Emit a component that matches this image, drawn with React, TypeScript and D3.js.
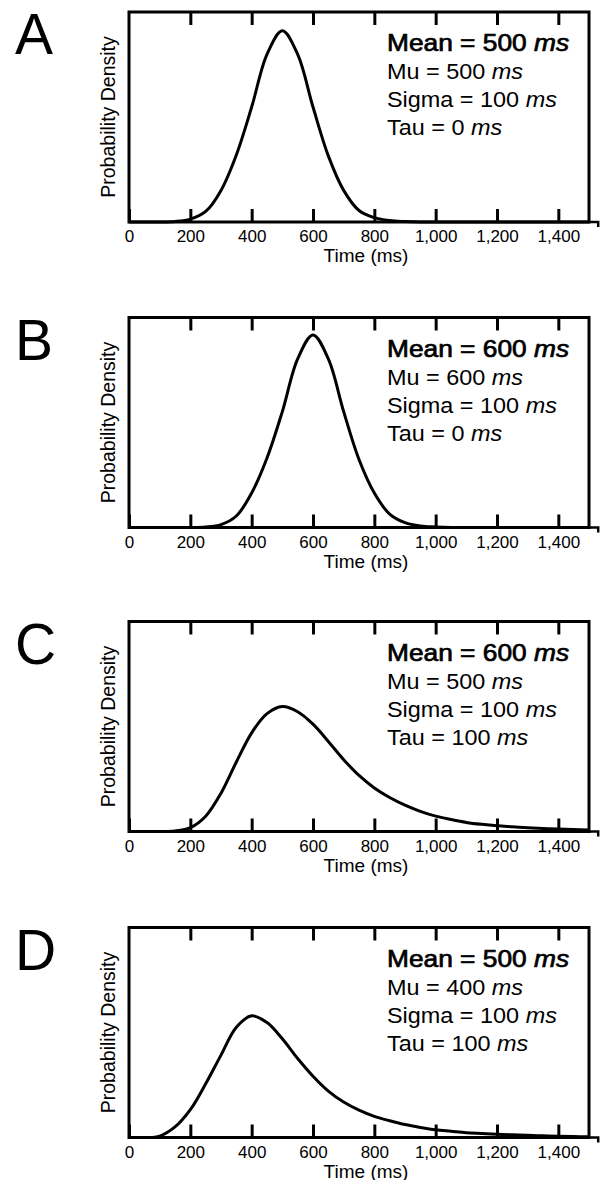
import React, { useEffect, useRef } from 'react';
import * as d3 from 'd3';

// panel letters and the ex-Gaussian parameters printed in each panel
const panels = ['A', 'B', 'C', 'D'];
const means = [500, 600, 600, 500];
const mus = [500, 600, 500, 400];
const sigmas = [100, 100, 100, 100];
const taus = [0, 0, 100, 100];

const timeTicks = [0, 200, 400, 600, 800, 1000, 1200, 1400];

// sample times (ms) for the density curves
const times = [
  0, 50, 100, 150, 200, 250, 300, 350, 400, 450, 500, 550, 600, 650, 700, 750,
  800, 850, 900, 950, 1000, 1050, 1100, 1150, 1200, 1250, 1300, 1350, 1400, 1450, 1500,
];

// probability density (x 1/1000 ms)
const densityA = [
  0, 0, 0, 0.01, 0.06, 0.22, 0.66, 1.4, 2.4, 3.5, 3.99, 3.5, 2.4, 1.38, 0.66, 0.24,
  0.09, 0.03, 0.01, 0, 0, 0, 0, 0, 0, 0, 0, 0, 0, 0, 0,
];
const densityB = [
  0, 0, 0, 0, 0, 0.01, 0.06, 0.24, 0.72, 1.45, 2.42, 3.52, 4.02, 3.52, 2.42, 1.42,
  0.72, 0.28, 0.1, 0.03, 0.01, 0, 0, 0, 0, 0, 0, 0, 0, 0, 0,
];
const densityC = [
  0, 0, 0, 0.01, 0.08, 0.32, 0.8, 1.45, 2.06, 2.46, 2.61, 2.5, 2.24, 1.88, 1.5, 1.17,
  0.91, 0.71, 0.55, 0.42, 0.32, 0.25, 0.19, 0.15, 0.12, 0.1, 0.08, 0.065, 0.05, 0.04, 0.03,
];
const densityD = [
  0, 0, 0.03, 0.22, 0.58, 1.12, 1.72, 2.3, 2.54, 2.4, 2.06, 1.65, 1.28, 0.97, 0.74, 0.57,
  0.44, 0.35, 0.27, 0.21, 0.16, 0.13, 0.1, 0.085, 0.07, 0.055, 0.045, 0.035, 0.025, 0.02, 0.015,
];
const densities = [densityA, densityB, densityC, densityD];

const FONT = '"Liberation Sans", Arial, Helvetica, sans-serif';
const panelTops = [12, 317.5, 621.5, 927.5];
const plotH = 210;

export default function App() {
  const ref = useRef<SVGSVGElement>(null);

  useEffect(() => {
    const svg = d3.select(ref.current);
    svg.selectAll('*').remove();

    const x = d3.scaleLinear().domain([0, 1500]).range([129, 589]);

    panels.forEach((letter, i) => {
      const top = panelTops[i];
      const bottom = top + plotH;
      const y = d3.scaleLinear().domain([0, 4.384]).range([bottom, top]);
      const g = svg.append('g');

      // panel letter
      g.append('text')
        .attr('x', 15)
        .attr('y', top + 42)
        .attr('font-family', FONT)
        .attr('font-size', 57)
        .text(letter);

      // y label
      g.append('text')
        .attr('transform', `translate(115,${top + plotH / 2}) rotate(-90)`)
        .attr('text-anchor', 'middle')
        .attr('font-family', FONT)
        .attr('font-size', 19.5)
        .text('Probability Density');

      // curve
      const line = d3.line<number>()
        .x((d, j) => x(times[j]))
        .y(d => y(Math.max(0, d)))
        .curve(d3.curveCatmullRom.alpha(0.5));
      g.append('path')
        .datum(densities[i])
        .attr('d', line)
        .attr('fill', 'none')
        .attr('stroke', '#000')
        .attr('stroke-width', 3);

      // frame
      g.append('rect')
        .attr('x', x(0))
        .attr('y', top)
        .attr('width', x(1500) - x(0))
        .attr('height', plotH)
        .attr('fill', 'none')
        .attr('stroke', '#000')
        .attr('stroke-width', 3);

      // little stub past the right corner
      g.append('path')
        .attr('d', `M${x(1500)},${bottom}H${x(1530)}V${bottom + 5}`)
        .attr('fill', 'none')
        .attr('stroke', '#000')
        .attr('stroke-width', 2.5);

      // bottom ticks + labels
      g.append('g')
        .attr('transform', `translate(0,${bottom})`)
        .call(d3.axisBottom(x).tickValues(timeTicks).tickSize(-13).tickPadding(8).tickFormat(d3.format(',')))
        .call(a => a.select('.domain').remove())
        .call(a => a.selectAll('.tick line').attr('stroke', '#000').attr('stroke-width', 3))
        .call(a => a.selectAll('.tick text').attr('fill', '#000'))
        .attr('font-family', FONT)
        .attr('font-size', 17);

      // top ticks
      g.append('g')
        .attr('transform', `translate(0,${top})`)
        .call(d3.axisTop(x).tickValues(timeTicks.slice(1)).tickSize(-13).tickFormat(() => ''))
        .call(a => a.select('.domain').remove())
        .call(a => a.selectAll('.tick line').attr('stroke', '#000').attr('stroke-width', 3));

      // x label
      g.append('text')
        .attr('x', 366)
        .attr('y', bottom + 40)
        .attr('text-anchor', 'middle')
        .attr('font-family', FONT)
        .attr('font-size', 19)
        .text('Time (ms)');

      // parameter text
      const rows = [
        { label: 'Mean', value: means[i], heavy: true },
        { label: 'Mu', value: mus[i], heavy: false },
        { label: 'Sigma', value: sigmas[i], heavy: false },
        { label: 'Tau', value: taus[i], heavy: false },
      ];
      const rowOffsets = [39, 67, 95, 123];
      rows.forEach((r, k) => {
        const t = g.append('text')
          .attr('transform', `translate(387,${top + rowOffsets[k]}) scale(${r.heavy ? 1.12 : 1.09},1)`)
          .attr('font-family', FONT)
          .attr('font-size', r.heavy ? 23.5 : 21.5)
          .attr('fill', '#000');
        if (r.heavy) t.attr('stroke', '#000').attr('stroke-width', 0.7);
        t.append('tspan').text(`${r.label} = ${r.value} `);
        t.append('tspan').attr('font-style', 'italic').text('ms');
      });
    });
  }, []);

  return (
    <svg
      ref={ref}
      width={600}
      height={1180}
      style={{ position: 'absolute', left: 0, top: 0, background: '#fff' }}
    />
  );
}
